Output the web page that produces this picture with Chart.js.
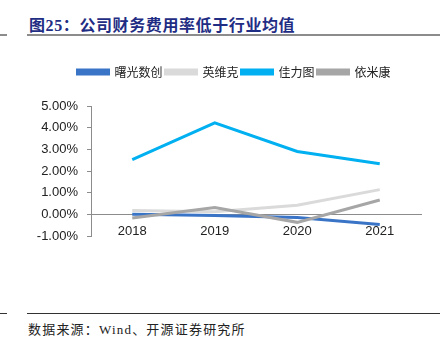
<!DOCTYPE html>
<html>
<head>
<meta charset="utf-8">
<script src="https://cdn.jsdelivr.net/npm/chart.js@4.4.1/dist/chart.umd.min.js"></script>
<style>
  body { margin: 0; width: 446px; height: 354px; background: #fff; position: relative; overflow: hidden; }
  .title { position: absolute; left: 29px; top: 12px; font: bold 16px "Liberation Serif", "Noto Sans CJK SC", serif; color: #1f2d84; letter-spacing: 0.6px; white-space: nowrap; }
  .rule { position: absolute; height: 2px; background: #8c8c8c; }
  .rule2 { position: absolute; height: 1px; background: #333; }
  .source { position: absolute; left: 28px; top: 319px; font: 13px "Liberation Serif", "Noto Sans CJK SC", serif; color: #222; letter-spacing: 1.2px; white-space: nowrap; }
  #wrap { position: absolute; left: 0; top: 63px; width: 446px; height: 200px; }
</style>
</head>
<body>
<div class="title">图25：公司财务费用率低于行业均值</div>
<div class="rule" style="left:0;top:34px;width:7px"></div>
<div class="rule" style="left:27px;top:34px;width:413px"></div>
<div id="wrap"><canvas id="myChart" width="446" height="200"></canvas></div>
<div class="rule2" style="left:0;top:313px;width:7px"></div>
<div class="rule2" style="left:27px;top:313px;width:413px"></div>
<div class="source">数据来源：Wind、开源证券研究所</div>
<script>
// data (percent)
let years = ['2018', '2019', '2020', '2021'];
let seriesNames = ['曙光数创', '英维克', '佳力图', '依米康'];
let shuguang = [0.0, -0.05, -0.15, -0.47];
let yingweike = [0.18, 0.12, 0.42, 1.14];
let jialitu = [2.52, 4.22, 2.9, 2.33];
let yimikang = [-0.17, 0.32, -0.37, 0.66];
let yTicks = [-1, 0, 1, 2, 3, 4, 5];

let colors = ['#3a74c7', '#dadada', '#00b0f0', '#a6a6a6'];
let values = [shuguang, yingweike, jialitu, yimikang];
let drawOrder = [1, 3, 2, 0];

// push the plot down from the legend, and nudge the legend right a bit
let legendGap = {
    id: 'legendGap',
    beforeInit(chart) {
        let fit = chart.legend.fit;
        chart.legend.fit = function() {
            fit.bind(chart.legend)();
            this.height += 18;
        };
    },
    afterLayout(chart) {
        chart.legend.left += 8;
        chart.legend.right += 8;
    }
};

let ctx = document.getElementById('myChart').getContext('2d');
let myChart = new Chart(ctx, {
    type: 'line',
    data: {
        labels: years,
        datasets: seriesNames.map(function(name, i) {
            return {
                label: name,
                data: values[i],
                borderColor: colors[i],
                backgroundColor: colors[i],
                borderWidth: 3,
                pointRadius: 0,
                tension: 0,
                order: drawOrder[i]
            };
        })
    },
    options: {
        responsive: false,
        animation: false,
        layout: { padding: { left: 31, right: 25, top: 0, bottom: 27 } },
        plugins: {
            tooltip: { enabled: false },
            legend: {
                position: 'top',
                labels: {
                    sort: function(a, b) { return a.datasetIndex - b.datasetIndex; },
                    boxWidth: 31,
                    boxHeight: 4,
                    padding: 3,
                    color: '#222',
                    font: { family: '"Noto Sans CJK SC", sans-serif', size: 12 }
                }
            }
        },
        scales: {
            x: {
                position: { y: 0 },
                offset: true,
                grid: { display: true, drawOnChartArea: false, drawTicks: false, offset: true },
                border: { display: true, color: '#8c8c8c', width: 1 },
                ticks: {
                    padding: 9,
                    color: '#222',
                    font: { family: '"Liberation Sans", Arial, sans-serif', size: 13 }
                }
            },
            y: {
                min: -1,
                max: 5,
                afterBuildTicks: function(scale) {
                    scale.ticks = yTicks.map(function(v) { return { value: v }; });
                },
                afterFit: function(scale) { scale.width = 60; },
                grid: { drawOnChartArea: false, drawTicks: true, tickLength: 4, color: '#8c8c8c' },
                border: { display: true, color: '#8c8c8c', width: 1 },
                ticks: {
                    padding: 9,
                    color: '#222',
                    font: { family: '"Liberation Sans", Arial, sans-serif', size: 13 },
                    callback: function(v) { return v.toFixed(2) + '%'; }
                }
            }
        }
    },
    plugins: [legendGap]
});
</script>
</body>
</html>
